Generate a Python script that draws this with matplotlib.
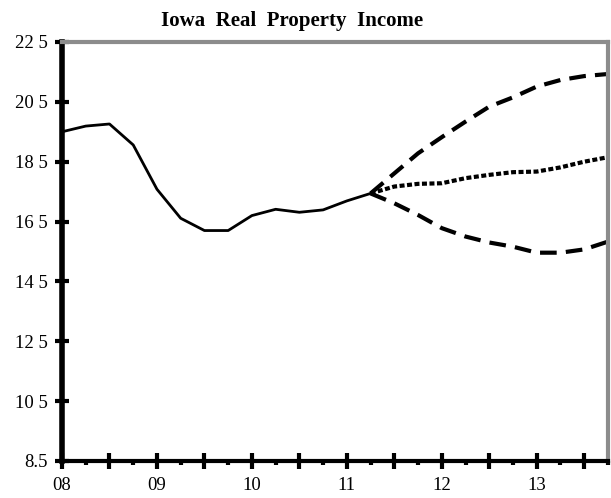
import matplotlib
matplotlib.use("Agg")
import matplotlib.pyplot as plt

# quarters since 2008Q1
hist_q = list(range(0, 14))
hist_vals = [19.5, 19.69, 19.76, 19.06, 17.58, 16.61, 16.2, 16.2, 16.7, 16.91, 16.81, 16.89, 17.19, 17.44]

fc_q = list(range(13, 24))
high_vals = [17.44, 18.11, 18.78, 19.32, 19.84, 20.34, 20.65, 21.01, 21.23, 21.36, 21.43]
base_vals = [17.44, 17.67, 17.76, 17.78, 17.95, 18.06, 18.15, 18.17, 18.31, 18.5, 18.65]
low_vals = [17.44, 17.11, 16.72, 16.28, 16.0, 15.8, 15.66, 15.46, 15.46, 15.57, 15.83]

y_ticks = [8.5, 10.5, 12.5, 14.5, 16.5, 18.5, 20.5, 22.5]
y_labels = ['8.5', '10 5', '12 5', '14 5', '16 5', '18 5', '20 5', '22 5']
x_ticks = [0, 4, 8, 12, 16, 20]
x_labels = ['08', '09', '10', '11', '12', '13']

plt.rcParams['font.family'] = ['Liberation Serif', 'DejaVu Serif']

fig = plt.figure(figsize=(6.11, 4.98), dpi=100)
ax = fig.add_axes([0.1015, 0.0743, 0.8935, 0.8414])

ax.plot(hist_q, hist_vals, color='black', lw=2)
ax.plot(fc_q, high_vals, color='black', lw=3, dashes=(4, 2.2))
ax.plot(fc_q, low_vals, color='black', lw=3, dashes=(4, 2.2))
ax.plot(fc_q, base_vals, color='black', lw=3, dashes=(1.2, 0.6))

ax.set_xlim(0, 23)
ax.set_ylim(8.5, 22.5)

ax.set_yticks(y_ticks)
ax.set_yticklabels(y_labels)
ax.set_xticks(list(range(0, 24, 2)))
ax.set_xticklabels([''] * 12)
ax.set_xticks(list(range(1, 24, 2)), minor=True)
for q, lab in zip(x_ticks, x_labels):
    ax.text(q, 8.5 - 0.55, lab, ha='center', va='top', fontsize=13.5)

ax.tick_params(axis='y', direction='inout', length=10, width=3, labelsize=13.5, pad=5)
ax.tick_params(axis='x', which='major', direction='inout', length=11, width=3)
ax.tick_params(axis='x', which='minor', direction='out', length=3, width=3)

ax.spines['left'].set_linewidth(4)
ax.spines['bottom'].set_linewidth(3)
for s in ['top', 'right']:
    ax.spines[s].set_color('#8c8c8c')
    ax.spines[s].set_linewidth(3)

fig.text(0.478, 0.958, 'Iowa  Real  Property  Income', ha='center', va='center',
         fontsize=15, fontweight='bold')

fig.savefig('out.png', dpi=100)
